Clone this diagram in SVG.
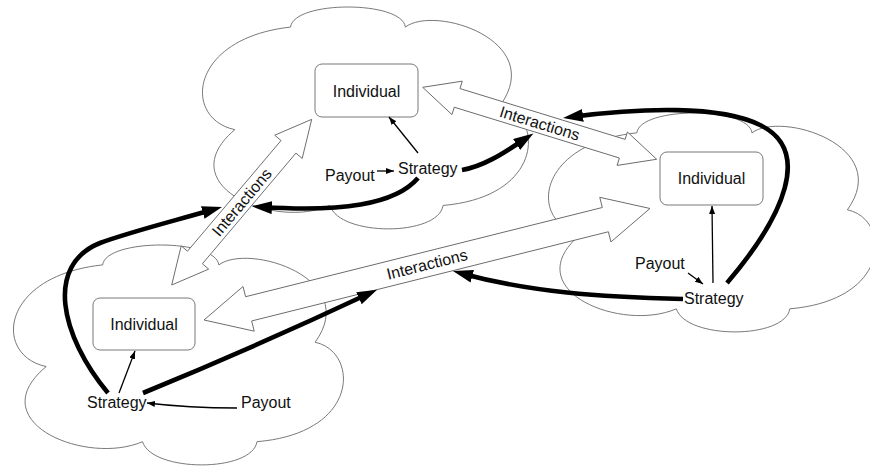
<svg xmlns="http://www.w3.org/2000/svg" xmlns:xlink="http://www.w3.org/1999/xlink" width="870" height="468" viewBox="0 0 870 468">
<style>
.cloud{fill:none;stroke:#6a6a6a;stroke-width:0.9}
.box{fill:#fff;stroke:#6a6a6a;stroke-width:0.9}
.ia{fill:#fff;stroke:#6a6a6a;stroke-width:0.9}
text{font-family:"Liberation Sans",Arial,Helvetica,sans-serif;font-size:16px;fill:#111}
.thin{fill:none;stroke:#000;stroke-width:1.3;marker-end:url(#sm)}
.thick{fill:none;stroke:#000;stroke-width:4.6;marker-end:url(#bg)}
</style>
<defs>
<path id="cloudshape" vector-effect="non-scaling-stroke" d="M27,9 C28,-3 61,-3 62,9 C71,-1 105,15 91,44 C104,48 105,85 73.5,89 C72,103 42,103 39,89 C22,100 -10,80 10,55 C-6,50 -4,14 27,9 Z"/>
<marker id="sm" markerUnits="userSpaceOnUse" markerWidth="10" markerHeight="8" refX="8" refY="3" orient="auto"><path d="M0,0 L8,3 L0,6 Z" fill="#000"/></marker>
<marker id="bg" markerUnits="userSpaceOnUse" markerWidth="22" markerHeight="14" refX="10" refY="6.5" orient="auto"><path d="M0,0 L20,6.5 L0,13 Z" fill="#000"/></marker>
</defs>
<g id="clouds">
<use xlink:href="#cloudshape" href="#cloudshape" class="cloud" transform="translate(202,7) scale(3.28,2.23)"/>
<use xlink:href="#cloudshape" href="#cloudshape" class="cloud" transform="translate(548,113) scale(3.29,2.2)"/>
<use xlink:href="#cloudshape" href="#cloudshape" class="cloud" transform="translate(13,245) scale(3.32,2.21)"/>
</g>
<g id="individual-top"><rect class="box" x="315" y="64" width="103" height="53" rx="7"/><text x="366.5" y="97" text-anchor="middle">Individual</text></g>
<g id="individual-right"><rect class="box" x="660" y="152" width="103" height="53" rx="7"/><text x="711.5" y="184" text-anchor="middle">Individual</text></g>
<g id="individual-left"><rect class="box" x="93" y="298" width="102" height="52" rx="7"/><text x="144" y="330" text-anchor="middle">Individual</text></g>
<g id="interactions-top" transform="translate(422.7,87.3) rotate(17.1)">
<polygon class="ia" points="0,0 36,-17.5 36,-9.75 208.8,-9.75 208.8,-17.5 244.8,0 208.8,17.5 208.8,9.75 36,9.75 36,17.5"/>
<text x="122.4" y="5.6" text-anchor="middle">Interactions</text>
</g>
<g id="interactions-left" transform="translate(171.7,285) rotate(-49.8)">
<polygon class="ia" points="0,0 36,-18 36,-9.75 180.9,-9.75 180.9,-18 216.9,0 180.9,18 180.9,9.75 36,9.75 36,18"/>
<text x="108.45" y="5.6" text-anchor="middle">Interactions</text>
</g>
<g id="interactions-bottom" transform="translate(204,320) rotate(-14.04)">
<polygon class="ia" points="0,0 46,-23 46,-12.5 413.7,-12.5 413.7,-23 459.7,0 413.7,23 413.7,12.5 46,12.5 46,23"/>
<text x="229.85" y="5.6" text-anchor="middle">Interactions</text>
</g>
<g id="strategy-top"><text x="398" y="173.5">Strategy</text></g>
<g id="payout-top"><text x="325" y="181">Payout</text></g>
<g id="strategy-right"><text x="684" y="304">Strategy</text></g>
<g id="payout-right"><text x="635" y="269">Payout</text></g>
<g id="strategy-left"><text x="87" y="408">Strategy</text></g>
<g id="payout-left"><text x="241" y="408">Payout</text></g>
<g id="connectors">
<path class="thin" d="M377,171 L394,171"/>
<path class="thin" d="M418,153 L389,117"/>
<path class="thin" d="M688,273 L703,284"/>
<path class="thin" d="M713,283 L712,206"/>
<path class="thin" d="M119,393 L135,351"/>
<path class="thin" d="M237,408 C200,408 172,406 147,403"/>
<path class="thick" d="M462,170 C485,166 505,152 525,139"/>
<path class="thick" d="M418,178 C395,205 340,212 262,207"/>
<path class="thick" d="M108,393 C60,335 45,265 100,243 C130,232 170,222 212.4,209.8"/>
<path class="thick" d="M143,393 Q255,347 368,294"/>
<path class="thick" d="M683,299 C600,297 530,292 462.6,273.7"/>
<path class="thick" d="M727,283 C785,215 812,150 760,125 C720,105 640,108 573,116.7"/>
</g>
</svg>
